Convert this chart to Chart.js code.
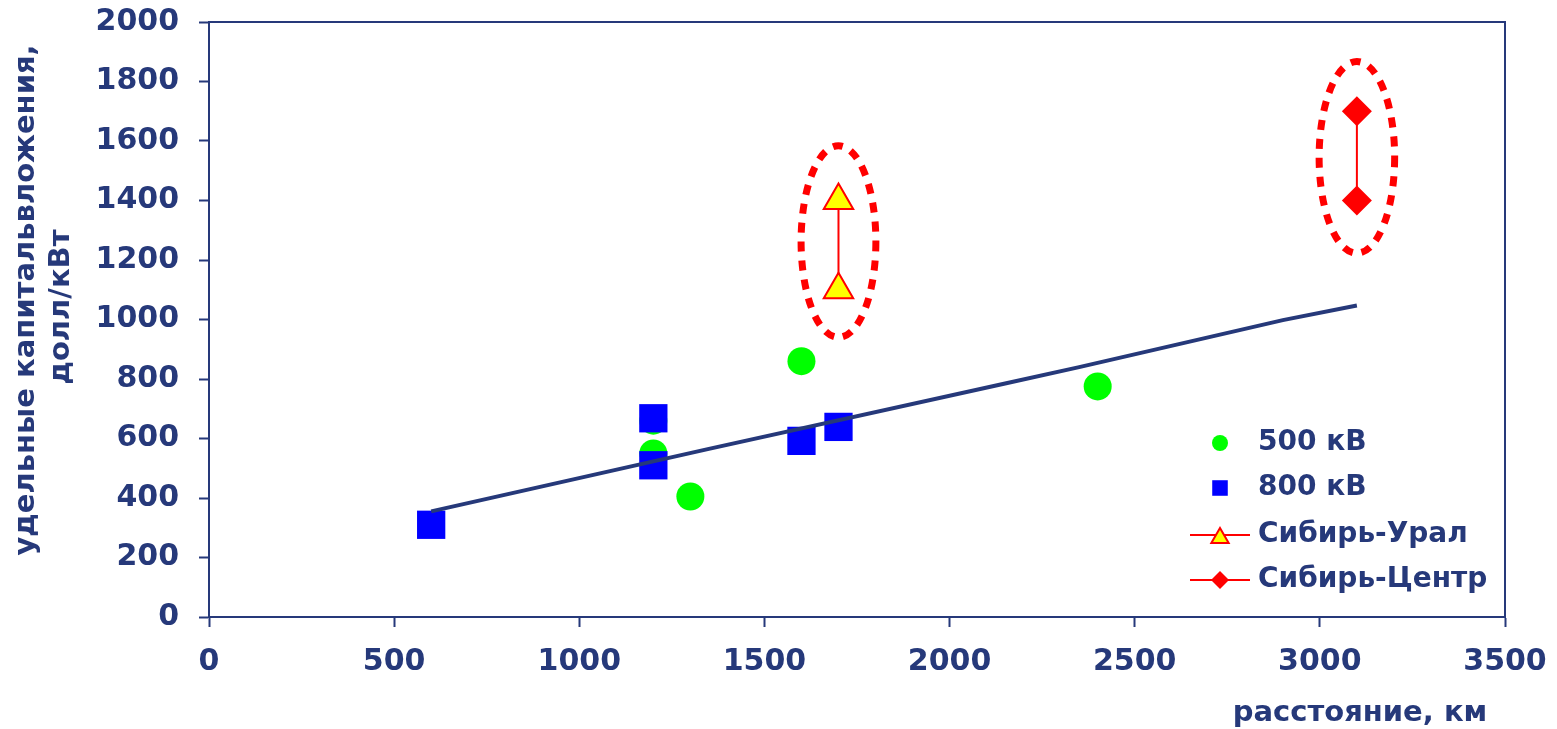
<!DOCTYPE html>
<html lang="ru">
<head>
    <meta charset="UTF-8">
    <title>Удельные капиталовложения</title>
    <script src="https://cdn.jsdelivr.net/npm/chart.js"></script>
    <style>
        body {
            margin: 0;
            background: #fff;
        }
        .chart-container {
            position: relative;
            width: 1557px;
            height: 729px;
        }
    </style>
</head>
<body>
    <div class="chart-container">
        <canvas id="costChart"></canvas>
    </div>

    <script>
        const NAVY = '#26397A';
        const FONT = "'DejaVu Sans', Verdana, sans-serif";

        // точки 500 кВ
        const kv500X = [1200, 1200, 1300, 1600, 2400];
        const kv500Y = [550, 660, 405, 860, 775];
        // точки 800 кВ
        const kv800X = [600, 1200, 1200, 1600, 1700];
        const kv800Y = [310, 668, 510, 592, 639];
        // Сибирь-Урал / Сибирь-Центр
        const uralX = [1700, 1700];
        const uralY = [1100, 1400];
        const centrX = [3100, 3100];
        const centrY = [1400, 1700];
        // линия тренда
        const trendX = [600, 1350, 2150, 2350, 2900, 3100];
        const trendY = [355, 565, 785, 840, 998, 1047];

        const xTicks = [0, 500, 1000, 1500, 2000, 2500, 3000, 3500];
        const yTicks = [0, 200, 400, 600, 800, 1000, 1200, 1400, 1600, 1800, 2000];

        const legendItems = ['500 кВ', '800 кВ', 'Сибирь-Урал', 'Сибирь-Центр'];
        const yTitle = ['удельные капитальвложения,', 'долл/кВт'];
        const xTitle = 'расстояние, км';

        // овалы вокруг проектов (центр и полуоси в единицах осей)
        const ovals = [
            { x: 1700, y: 1262, dx: 101, dy: 322 },
            { x: 3100, y: 1545, dx: 102, dy: 322 }
        ];

        const toPoints = (xs, ys) => xs.map((x, i) => ({ x: x, y: ys[i] }));

        const extras = {
            id: 'extras',
            afterDatasetsDraw(chart) {
                const ctx = chart.ctx;
                const a = chart.chartArea;
                const xs = chart.scales.x;
                const ys = chart.scales.y;

                ctx.save();
                // рамка сверху и справа
                ctx.strokeStyle = NAVY;
                ctx.lineWidth = 2;
                ctx.beginPath();
                ctx.moveTo(a.left, a.top);
                ctx.lineTo(a.right, a.top);
                ctx.lineTo(a.right, a.bottom);
                ctx.stroke();

                // пунктирные овалы
                ctx.strokeStyle = '#FF0000';
                ctx.lineWidth = 7;
                ctx.setLineDash([10, 9]);
                ovals.forEach(o => {
                    const cx = xs.getPixelForValue(o.x);
                    const cy = ys.getPixelForValue(o.y);
                    const rx = Math.abs(xs.getPixelForValue(o.x + o.dx) - cx);
                    const ry = Math.abs(ys.getPixelForValue(o.y + o.dy) - cy);
                    ctx.beginPath();
                    ctx.ellipse(cx, cy, rx, ry, 0, 0, Math.PI * 2);
                    ctx.stroke();
                });
                ctx.setLineDash([]);

                // легенда
                const mx = a.right - 285;
                const tx = a.right - 247;
                const rows = [a.bottom - 174, a.bottom - 129, a.bottom - 82, a.bottom - 37];
                const styles = [
                    { pointStyle: 'circle', radius: 8, borderWidth: 0, fill: '#00FF00', stroke: '#00FF00', line: false },
                    { pointStyle: 'rect', radius: 11, borderWidth: 0, fill: '#0000FF', stroke: '#0000FF', line: false },
                    { pointStyle: 'triangle', radius: 10, borderWidth: 2, fill: '#FFFF00', stroke: '#FF0000', line: true },
                    { pointStyle: 'rectRot', radius: 9, borderWidth: 0, fill: '#FF0000', stroke: '#FF0000', line: true }
                ];
                styles.forEach((s, i) => {
                    const y = rows[i];
                    if (s.line) {
                        ctx.strokeStyle = '#FF0000';
                        ctx.lineWidth = 2;
                        ctx.beginPath();
                        ctx.moveTo(mx - 30, y);
                        ctx.lineTo(mx + 30, y);
                        ctx.stroke();
                    }
                    ctx.fillStyle = s.fill;
                    ctx.strokeStyle = s.stroke;
                    ctx.lineWidth = s.borderWidth;
                    Chart.helpers.drawPoint(ctx, { pointStyle: s.pointStyle, radius: s.radius, borderWidth: s.borderWidth, rotation: 0 }, mx, y + (s.pointStyle === 'triangle' ? 3 : 0));
                    ctx.fillStyle = NAVY;
                    ctx.font = 'bold 28px ' + FONT;
                    ctx.textAlign = 'left';
                    ctx.textBaseline = 'middle';
                    ctx.fillText(legendItems[i], tx, y);
                });

                // подписи осей
                ctx.fillStyle = NAVY;
                ctx.font = 'bold 29px ' + FONT;
                ctx.textAlign = 'center';
                ctx.textBaseline = 'middle';
                ctx.fillText(xTitle, 1360, 713);

                ctx.save();
                ctx.translate(26, 300);
                ctx.rotate(-Math.PI / 2);
                ctx.fillText(yTitle[0], 0, 0);
                ctx.restore();
                ctx.save();
                ctx.translate(61, 307);
                ctx.rotate(-Math.PI / 2);
                ctx.fillText(yTitle[1], 0, 0);
                ctx.restore();

                ctx.restore();
            }
        };

        const tickFont = { family: FONT, size: 30, weight: 'bold' };
        const plain = v => String(v);

        new Chart(document.getElementById('costChart'), {
            type: 'scatter',
            data: {
                datasets: [
                    {
                        label: legendItems[3],
                        data: toPoints(centrX, centrY),
                        showLine: true,
                        borderColor: '#FF0000',
                        borderWidth: 2,
                        pointStyle: 'rectRot',
                        pointRadius: 15,
                        pointBackgroundColor: '#FF0000',
                        pointBorderColor: '#FF0000',
                        pointBorderWidth: 0,
                        order: 1
                    },
                    {
                        label: legendItems[2],
                        data: toPoints(uralX, uralY),
                        showLine: true,
                        borderColor: '#FF0000',
                        borderWidth: 2,
                        pointStyle: 'triangle',
                        pointRadius: 17,
                        pointBackgroundColor: '#FFFF00',
                        pointBorderColor: '#FF0000',
                        pointBorderWidth: 2,
                        order: 2
                    },
                    {
                        label: 'тренд',
                        data: toPoints(trendX, trendY),
                        showLine: true,
                        borderColor: NAVY,
                        borderWidth: 4,
                        pointRadius: 0,
                        tension: 0,
                        order: 3
                    },
                    {
                        label: legendItems[1],
                        data: toPoints(kv800X, kv800Y),
                        pointStyle: 'rect',
                        pointRadius: 20,
                        pointBackgroundColor: '#0000FF',
                        pointBorderColor: '#0000FF',
                        pointBorderWidth: 0,
                        order: 4
                    },
                    {
                        label: legendItems[0],
                        data: toPoints(kv500X, kv500Y),
                        pointStyle: 'circle',
                        pointRadius: 14,
                        pointBackgroundColor: '#00FF00',
                        pointBorderColor: '#00FF00',
                        pointBorderWidth: 0,
                        order: 5
                    }
                ]
            },
            options: {
                responsive: true,
                maintainAspectRatio: false,
                animation: false,
                layout: {
                    padding: { top: 22, right: 52, left: 0, bottom: 0 }
                },
                plugins: {
                    legend: { display: false },
                    tooltip: { enabled: false }
                },
                scales: {
                    x: {
                        type: 'linear',
                        min: 0,
                        max: 3500,
                        afterBuildTicks(s) { s.ticks = xTicks.map(v => ({ value: v })); },
                        afterFit(s) {
                            s.height = 112;
                            s.paddingLeft = 0;
                            s.paddingRight = 0;
                        },
                        ticks: { color: NAVY, font: tickFont, padding: 17, maxRotation: 0, callback: plain },
                        grid: { drawOnChartArea: false, tickLength: 10, tickWidth: 2, tickColor: NAVY },
                        border: { color: NAVY, width: 2 }
                    },
                    y: {
                        min: 0,
                        max: 2000,
                        afterBuildTicks(s) { s.ticks = yTicks.map(v => ({ value: v })); },
                        afterFit(s) {
                            s.width = 209;
                            s.paddingTop = 0;
                            s.paddingBottom = 0;
                        },
                        ticks: { color: NAVY, font: tickFont, padding: 20, callback: plain },
                        grid: { drawOnChartArea: false, tickLength: 10, tickWidth: 2, tickColor: NAVY },
                        border: { color: NAVY, width: 2 }
                    }
                }
            },
            plugins: [extras]
        });
    </script>
</body>
</html>
